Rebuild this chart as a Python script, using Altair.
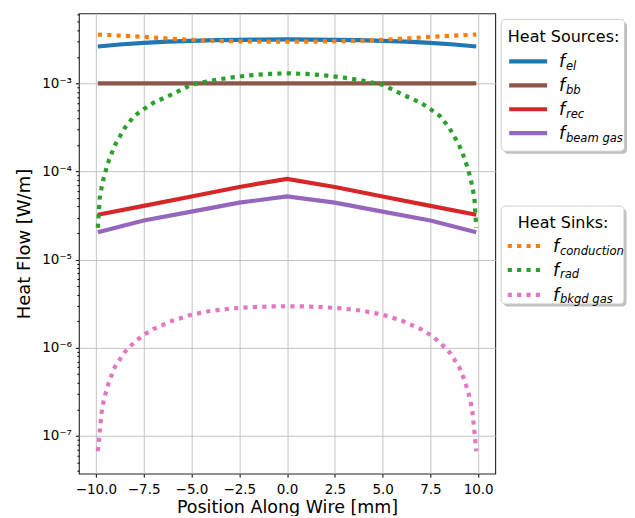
import altair as alt
import pandas as pd

# ---------------- data ----------------
# heat sources
x_smooth = [-9.9, -8.75, -7.5, -6.25, -5.0, -3.75, -2.5, -1.25, 0.0,
            1.25, 2.5, 3.75, 5.0, 6.25, 7.5, 8.75, 9.9]
f_el = [2.62e-3, 2.76e-3, 2.88e-3, 2.97e-3, 3.04e-3, 3.09e-3, 3.12e-3, 3.14e-3, 3.15e-3,
        3.14e-3, 3.12e-3, 3.09e-3, 3.04e-3, 2.97e-3, 2.88e-3, 2.76e-3, 2.62e-3]
f_bb = [1.0e-3, 1.0e-3, 1.0e-3, 1.0e-3, 1.0e-3, 1.0e-3, 1.0e-3, 1.0e-3, 1.0e-3,
        1.0e-3, 1.0e-3, 1.0e-3, 1.0e-3, 1.0e-3, 1.0e-3, 1.0e-3, 1.0e-3]
x_lin = [-9.9, -7.5, -5.0, -2.5, 0.0, 2.5, 5.0, 7.5, 9.9]
f_rec = [3.23e-5, 4.07e-5, 5.21e-5, 6.67e-5, 8.26e-5, 6.67e-5, 5.21e-5, 4.07e-5, 3.23e-5]
f_beam = [2.05e-5, 2.78e-5, 3.51e-5, 4.43e-5, 5.21e-5, 4.43e-5, 3.51e-5, 2.78e-5, 2.05e-5]

# heat sinks
f_cond = [3.58e-3, 3.48e-3, 3.37e-3, 3.23e-3, 3.12e-3, 3.04e-3, 3.00e-3, 2.98e-3, 2.97e-3,
          2.98e-3, 3.00e-3, 3.04e-3, 3.12e-3, 3.23e-3, 3.37e-3, 3.48e-3, 3.58e-3]
x_curve = [-9.9, -9.8, -9.7, -9.6, -9.5, -9.3, -9.0, -8.5, -8.0, -7.5, -7.0, -6.0, -5.0,
           -4.0, -3.0, -2.0, -1.0, 0.0, 1.0, 2.0, 3.0, 4.0, 5.0, 6.0, 7.0, 7.5, 8.0,
           8.5, 9.0, 9.3, 9.5, 9.6, 9.7, 9.8, 9.9]
f_rad = [2.3e-5, 5.0e-5, 6.6e-5, 8.3e-5, 1.0e-4, 1.38e-4, 2.0e-4, 3.1e-4, 4.25e-4, 5.1e-4,
         6.0e-4, 7.55e-4, 9.65e-4, 1.07e-3, 1.16e-3, 1.23e-3, 1.28e-3, 1.30e-3, 1.28e-3,
         1.23e-3, 1.16e-3, 1.07e-3, 9.65e-4, 7.55e-4, 6.0e-4, 5.1e-4, 4.25e-4, 3.1e-4,
         2.0e-4, 1.38e-4, 1.0e-4, 8.3e-5, 6.6e-5, 5.0e-5, 2.3e-5]
f_bkgd = [6.7e-8, 1.12e-7, 1.85e-7, 2.45e-7, 3.0e-7, 4.2e-7, 6.1e-7, 8.9e-7, 1.15e-6, 1.40e-6,
          1.63e-6, 2.03e-6, 2.37e-6, 2.62e-6, 2.78e-6, 2.88e-6, 2.94e-6, 2.96e-6, 2.94e-6,
          2.88e-6, 2.78e-6, 2.62e-6, 2.37e-6, 2.03e-6, 1.63e-6, 1.40e-6, 1.15e-6, 8.9e-7,
          6.1e-7, 4.2e-7, 3.0e-7, 2.45e-7, 1.85e-7, 1.12e-7, 6.7e-8]

x_ticks = [-10.0, -7.5, -5.0, -2.5, 0.0, 2.5, 5.0, 7.5, 10.0]

sources = [("el", x_smooth, f_el, "#1f77b4"),
           ("bb", x_smooth, f_bb, "#8c564b"),
           ("rec", x_lin, f_rec, "#d62728"),
           ("beam gas", x_lin, f_beam, "#9467bd")]
sinks = [("conduction", x_smooth, f_cond, "#ff7f0e"),
         ("rad", x_curve, f_rad, "#2ca02c"),
         ("bkgd gas", x_curve, f_bkgd, "#e377c2")]

FONT = "DejaVu Sans"
W, H = 417, 461
LW = 4.2
DOT = [4.2, 5.2]

xscale = alt.Scale(domain=[-10.89, 10.89], nice=False, zero=False)
yscale = alt.Scale(type="log", domain=[3.73e-8, 6.22e-3], nice=False)

y_vals = [m * 10.0 ** e for e in range(-8, -2) for m in range(1, 10)
          if 3.73e-8 <= m * 10.0 ** e <= 6.22e-3]
major = "abs(log(datum.value)/LN10 - round(log(datum.value)/LN10)) < 1e-6"
ex = "round(log(datum.value)/LN10)"
label_expr = (f"({major}) ? ('10' + ({ex} == -3 ? '⁻³' : {ex} == -4 ? '⁻⁴' : "
              f"{ex} == -5 ? '⁻⁵' : {ex} == -6 ? '⁻⁶' : {ex} == -7 ? '⁻⁷' : '⁻⁸')) : ''")

x_axis = alt.Axis(values=x_ticks, format=".1f", title="Position Along Wire [mm]",
                  tickSize=3.5, labelPadding=5, titlePadding=2.5,
                  labelFontSize=13.5, titleFontSize=17.5, grid=True, labelFlush=False)
y_axis = alt.Axis(values=y_vals, labelExpr=label_expr, title="Heat Flow [W/m]",
                  tickSize={"condition": {"test": major, "value": 3.5}, "value": 2},
                  gridOpacity={"condition": {"test": major, "value": 1}, "value": 0},
                  labelFontSize={"condition": {"test": major, "value": 13.5}, "value": 0},
                  labelPadding=4, titlePadding=8, titleFontSize=18,
                  grid=True, labelFlush=False)

layers = []
for name, xs, ys, col in sources + sinks:
    df = pd.DataFrame({"x": xs, "y": ys})
    dashed = any(name == s[0] for s in sinks)
    kw = dict(color=col, strokeWidth=LW)
    if dashed:
        kw["strokeDash"] = DOT
    layers.append(alt.Chart(df).mark_line(**kw).encode(
        x=alt.X("x:Q", scale=xscale, axis=x_axis),
        y=alt.Y("y:Q", scale=yscale, axis=y_axis),
    ))

# ---------------- legends (decoration outside the plot area) ----------------
one = pd.DataFrame({"a": [0]})
SH = 2.5  # shadow offset


def box(x1, x2, y1, y2):
    shadow = alt.Chart(one).mark_rect(fill="#808080", opacity=0.5, cornerRadius=4).encode(
        x=alt.value(x1 + SH), x2=alt.value(x2 + SH), y=alt.value(y1 + SH), y2=alt.value(y2 + SH))
    frame = alt.Chart(one).mark_rect(fill="white", stroke="#cccccc", strokeWidth=1,
                                     cornerRadius=4).encode(
        x=alt.value(x1), x2=alt.value(x2), y=alt.value(y1), y2=alt.value(y2))
    return [shadow, frame]


def txt(x, y, s, size=16, italic=False, align="left"):
    kw = dict(font=FONT, fontSize=size, align=align, baseline="alphabetic", color="black")
    if italic:
        kw["fontStyle"] = "italic"
    return alt.Chart(one).mark_text(**kw).encode(
        x=alt.value(x), y=alt.value(y), text=alt.value(s))


def entries(names, cols, dashed, ys, lx1, lx2, fx):
    out = []
    for n, c, yy in zip(names, cols, ys):
        kw = dict(color=c, strokeWidth=LW)
        if dashed:
            kw["strokeDash"] = DOT
        out.append(alt.Chart(one).mark_rule(**kw).encode(
            x=alt.value(lx1), x2=alt.value(lx2), y=alt.value(yy)))
        out.append(txt(fx, yy + 6, "f", 17.5, True))
        out.append(txt(fx + 6.8, yy + 8.5, n, 11.6, True))
    return out


lg = []
# legend 1: heat sources
lg += box(423, 546.5, 6, 138)
lg.append(txt(485.5, 28.5, "Heat Sources:", 16, align="center"))
lg += entries([s[0] for s in sources], [s[3] for s in sources], False,
              [48, 72, 96, 120], 431, 469, 481)
# legend 2: heat sinks
lg += box(423, 546, 193, 291)
lg.append(txt(485, 214.5, "Heat Sinks:", 16, align="center"))
lg += entries([s[0] for s in sinks], [s[3] for s in sinks], True,
              [233, 257, 282], 429.5, 465.5, 475)

chart = alt.layer(*layers, *lg).properties(
    width=W, height=H,
    padding={"left": 7, "top": 5, "right": 0, "bottom": 0},
).configure_axis(
    labelFont=FONT, titleFont=FONT, labelColor="black", titleColor="black",
    tickColor="black", domain=False, gridColor="#c4c4c4", gridWidth=1,
    titleFontWeight="normal",
).configure_view(stroke="#222222", strokeWidth=1.1)

chart.save("out.html", embed_options={"renderer": "svg", "actions": False})
